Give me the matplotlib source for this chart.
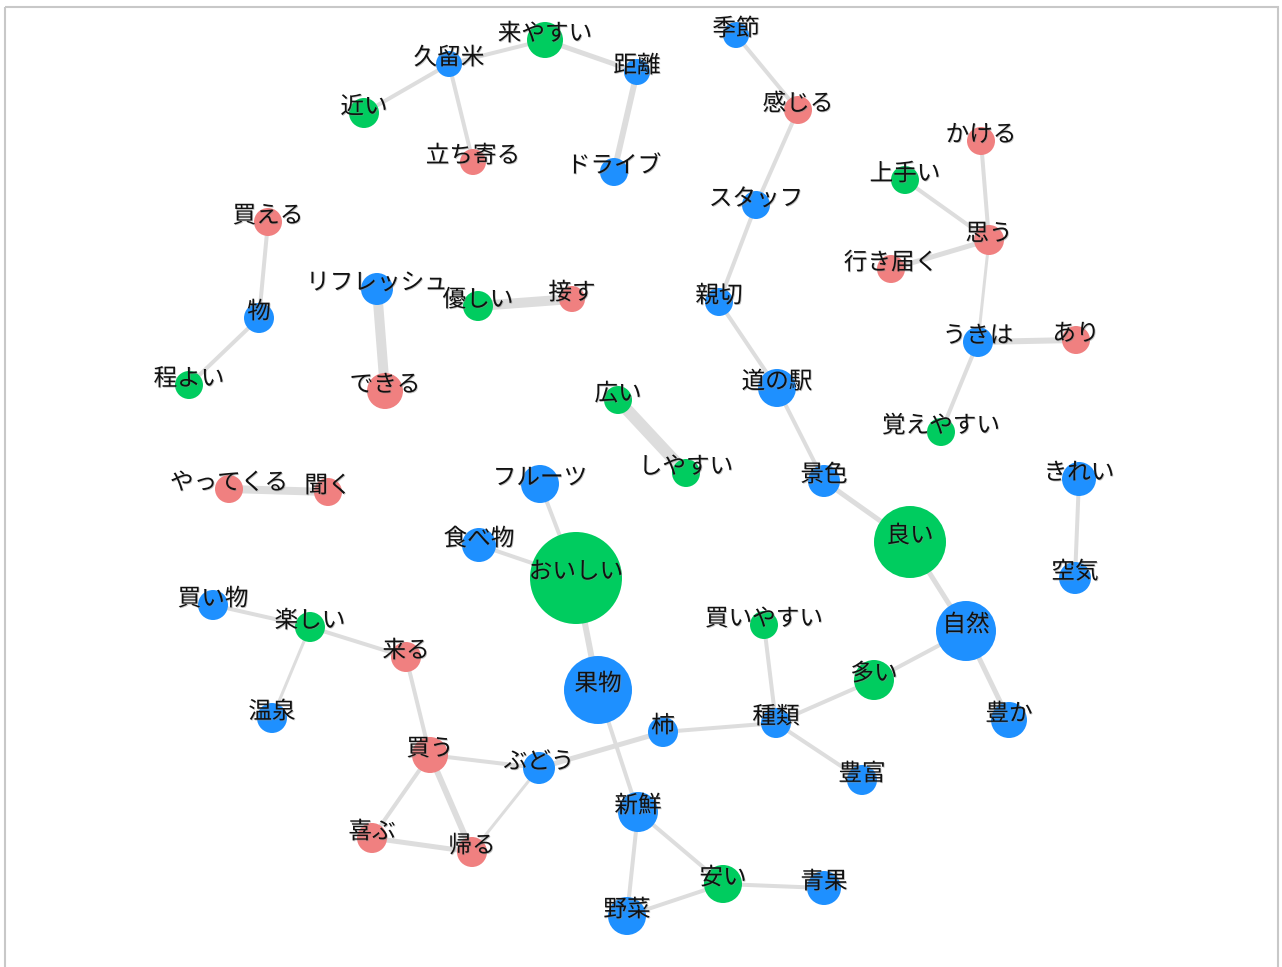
import matplotlib
matplotlib.use("Agg")
import matplotlib.pyplot as plt
from matplotlib.patches import Rectangle
import matplotlib.patheffects as pe

plt.rcParams['font.family'] = ['Noto Sans CJK JP', 'DejaVu Sans']

# ---- data ----
words = ["来やすい", "久留米", "距離", "近い", "立ち寄る", "ドライブ", "季節", "感じる",
         "かける", "上手い", "スタッフ", "思う", "行き届く", "買える", "親切", "リフレッシュ",
         "優しい", "接す", "物", "うきは", "あり", "程よい", "できる", "広い", "道の駅",
         "覚えやすい", "フルーツ", "しやすい", "景色", "きれい", "やってくる", "聞く", "良い",
         "食べ物", "おいしい", "空気", "買い物", "楽しい", "買いやすい", "自然", "来る", "果物",
         "多い", "温泉", "豊か", "柿", "種類", "買う", "ぶどう", "豊富", "新鮮", "喜ぶ", "帰る",
         "安い", "青果", "野菜"]
pos_x = [545, 449, 637, 364, 473, 614, 736, 798,
         981, 905, 756, 989, 891, 268, 719, 377,
         478, 572, 259, 978, 1076, 189, 385, 618, 777,
         941, 540, 686, 824, 1079, 229, 328, 910,
         479, 576, 1075, 213, 310, 764, 966, 406, 598,
         874, 272, 1009, 663, 776, 430, 539, 862, 638, 372, 472,
         723, 824, 627]
pos_y = [40, 64, 72, 113, 162, 172, 35, 110,
         141, 180, 205, 240, 269, 222, 302, 289,
         306, 299, 318, 342, 340, 385, 391, 400, 388,
         432, 484, 473, 481, 479, 489, 492, 542,
         545, 578, 578, 605, 627, 625, 631, 657, 690,
         680, 718, 720, 732, 723, 755, 768, 780, 812, 838, 852,
         884, 888, 916]
radius = [18, 13, 13, 15, 13, 14, 13, 14,
          14, 14, 14, 15, 14, 14, 14, 16,
          15, 13, 15, 15, 14, 14, 18, 14, 19,
          14, 19, 14, 16, 17, 14, 14, 36,
          17, 46, 16, 15, 15, 14, 30, 15, 34,
          20, 15, 18, 15, 15, 18, 16, 15, 20, 15, 15,
          19, 17, 19]
# word class: N = noun, A = adjective, V = verb
word_class = ["A", "N", "N", "A", "V", "N", "N", "V",
              "V", "A", "N", "V", "V", "V", "N", "N",
              "A", "V", "N", "N", "V", "A", "V", "A", "N",
              "A", "N", "A", "N", "N", "V", "V", "A",
              "N", "A", "N", "N", "A", "A", "N", "V", "N",
              "A", "N", "N", "N", "N", "V", "N", "N", "N", "V", "V",
              "A", "N", "N"]

edges = [("久留米", "来やすい", 4), ("来やすい", "距離", 5), ("久留米", "近い", 4),
         ("久留米", "立ち寄る", 4), ("距離", "ドライブ", 6), ("季節", "感じる", 4),
         ("感じる", "スタッフ", 4), ("スタッフ", "親切", 4), ("親切", "道の駅", 4),
         ("道の駅", "景色", 4), ("景色", "良い", 5), ("良い", "自然", 5),
         ("自然", "多い", 4), ("自然", "豊か", 5), ("多い", "種類", 4),
         ("種類", "買いやすい", 4), ("種類", "柿", 4), ("種類", "豊富", 4),
         ("柿", "ぶどう", 5), ("果物", "新鮮", 4), ("おいしい", "果物", 6),
         ("おいしい", "フルーツ", 4), ("おいしい", "食べ物", 4), ("新鮮", "野菜", 4),
         ("新鮮", "安い", 4), ("安い", "野菜", 4), ("安い", "青果", 4),
         ("ぶどう", "買う", 4), ("ぶどう", "帰る", 3), ("買う", "帰る", 6),
         ("買う", "喜ぶ", 4), ("喜ぶ", "帰る", 5), ("来る", "買う", 4),
         ("楽しい", "来る", 4), ("楽しい", "買い物", 4), ("楽しい", "温泉", 3),
         ("買える", "物", 4), ("物", "程よい", 4), ("リフレッシュ", "できる", 10),
         ("優しい", "接す", 10), ("広い", "しやすい", 12), ("やってくる", "聞く", 8),
         ("かける", "思う", 4), ("上手い", "思う", 4), ("思う", "行き届く", 5),
         ("思う", "うきは", 3), ("うきは", "あり", 6), ("うきは", "覚えやすい", 4),
         ("きれい", "空気", 4)]

class_colors = {"N": "#1e90ff", "A": "#00cc5f", "V": "#f08080"}

# ---- figure ----
W, H, DPI = 1282, 967, 100
fig = plt.figure(figsize=(W / DPI, H / DPI), dpi=DPI)
ax = fig.add_axes([0, 0, 1, 1])
ax.set_xlim(0, W)
ax.set_ylim(H, 0)
ax.axis("off")

ax.add_patch(Rectangle((5, 7), 1273, 980, fill=False, edgecolor="#c8c8c8", linewidth=1.5))

idx = {w: i for i, w in enumerate(words)}
px2pt = 72.0 / DPI
for a, b, w in edges:
    i, j = idx[a], idx[b]
    ax.plot([pos_x[i], pos_x[j]], [pos_y[i], pos_y[j]], color="#dddddd",
            linewidth=w * px2pt, solid_capstyle="butt", zorder=1)

sizes = [(2 * r * px2pt) ** 2 for r in radius]
colors = [class_colors[c] for c in word_class]
ax.scatter(pos_x, pos_y, s=sizes, c=colors, linewidths=0, zorder=2)

shadow = [pe.SimplePatchShadow(offset=(0.6, -0.6), shadow_rgbFace="#888888", alpha=0.5),
          pe.Normal()]
for w, x, y in zip(words, pos_x, pos_y):
    ax.text(x, y - 6, w, ha="center", va="center", fontsize=17, color="#111111",
            zorder=3, path_effects=shadow)

fig.savefig("out.png", dpi=DPI)
